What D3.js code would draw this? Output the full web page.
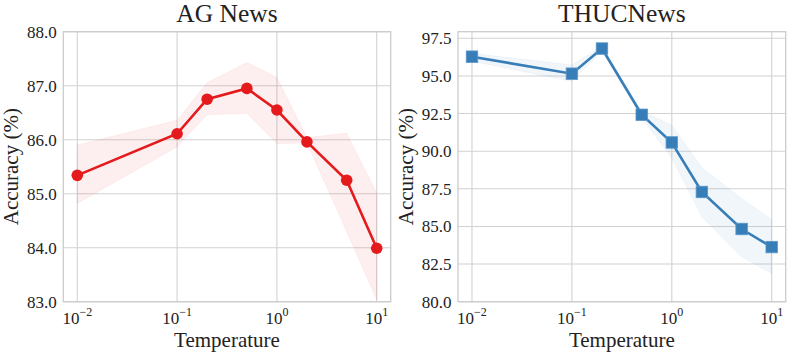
<!DOCTYPE html>
<html>
<head>
<meta charset="utf-8">
<script src="https://cdn.jsdelivr.net/npm/d3@7"></script>
<style>
    body { margin: 0; background: #fff; }
    svg text { font-family: "Liberation Serif", "Times New Roman", serif; fill: #222; }
</style>
</head>
<body>
<div class="graph-container"></div>
<script>
// data
const temperatures = [0.01, 0.1, 0.2, 0.5, 1, 2, 5, 10];
const xTickValues = [0.01, 0.1, 1, 10];
const xTickExponents = ['\u22122', '\u22121', '0', '1'];

const agMean = [85.34, 86.11, 86.75, 86.95, 86.55, 85.96, 85.25, 83.99];
const agUpper = [85.90, 86.36, 87.06, 87.43, 87.15, 86.04, 86.12, 85.01];
const agLower = [84.82, 85.87, 86.46, 86.49, 85.93, 85.94, 84.30, 83.04];
const agYTicks = [83, 84, 85, 86, 87, 88];

const thucMean = [96.28, 95.15, 96.82, 92.42, 90.58, 87.29, 84.83, 83.63];
const thucUpper = [96.50, 95.73, 96.97, 92.65, 91.74, 88.90, 86.85, 85.45];
const thucLower = [95.98, 94.65, 96.65, 92.20, 89.55, 85.65, 82.98, 81.88];
const thucYTicks = [80, 82.5, 85, 87.5, 90, 92.5, 95, 97.5];

const [width, height] = [789, 355];
const [plotTop, plotBottom] = [31.7, 301.7];

const svg = d3.select('div.graph-container')
    .append('svg')
    .attr('width', width)
    .attr('height', height)
    .attr('font-family', '"Liberation Serif", serif');

const drawPanel = ({ left, right, title, mean, upper, lower, yDomain, yTicks, color, marker }) => {
    const x = d3.scaleLog().domain([Math.pow(10, -2.14), Math.pow(10, 1.14)]).range([left, right]);
    const y = d3.scaleLinear().domain(yDomain).range([plotBottom, plotTop]);
    const g = svg.append('g');
    const rows = temperatures.map((t, i) => ({ t, m: mean[i], hi: upper[i], lo: lower[i] }));

    // grid
    g.selectAll('line.hgrid')
        .data(yTicks)
        .enter()
        .append('line')
        .attr('x1', left).attr('x2', right)
        .attr('y1', d => y(d)).attr('y2', d => y(d))
        .attr('stroke', '#d2d2d2')
        .attr('stroke-width', 1.1);
    g.selectAll('line.vgrid')
        .data(xTickValues)
        .enter()
        .append('line')
        .attr('x1', d => x(d)).attr('x2', d => x(d))
        .attr('y1', plotTop).attr('y2', plotBottom)
        .attr('stroke', '#d2d2d2')
        .attr('stroke-width', 1.1);

    // frame
    g.append('rect')
        .attr('x', left).attr('y', plotTop)
        .attr('width', right - left).attr('height', plotBottom - plotTop)
        .attr('fill', 'none')
        .attr('stroke', '#cccccc')
        .attr('stroke-width', 1.3);

    // spread band
    g.append('path')
        .datum(rows)
        .attr('d', d3.area().x(d => x(d.t)).y0(d => y(d.lo)).y1(d => y(d.hi)))
        .attr('fill', color)
        .attr('fill-opacity', 0.07)
        .attr('stroke', color)
        .attr('stroke-opacity', 0.05);

    // mean line
    g.append('path')
        .datum(rows)
        .attr('d', d3.line().x(d => x(d.t)).y(d => y(d.m)))
        .attr('fill', 'none')
        .attr('stroke', color)
        .attr('stroke-width', 2.6);

    // markers
    if (marker === 'circle') {
        g.selectAll('circle.pt')
            .data(rows)
            .enter()
            .append('circle')
            .attr('cx', d => x(d.t))
            .attr('cy', d => y(d.m))
            .attr('r', 5.8)
            .attr('fill', color);
    } else {
        const s = 11.5;
        g.selectAll('rect.pt')
            .data(rows)
            .enter()
            .append('rect')
            .attr('x', d => x(d.t) - s / 2)
            .attr('y', d => y(d.m) - s / 2)
            .attr('width', s).attr('height', s)
            .attr('fill', color)
            .attr('stroke', '#5a97cc')
            .attr('stroke-width', 0.8);
    }

    // y tick labels
    g.selectAll('text.ytick')
        .data(yTicks)
        .enter()
        .append('text')
        .attr('x', left - 6.5)
        .attr('y', d => y(d))
        .attr('dy', '0.35em')
        .attr('text-anchor', 'end')
        .style('font-size', '17px')
        .text(d => d.toFixed(1));

    // x tick labels (10^n)
    const xt = g.selectAll('text.xtick')
        .data(xTickValues)
        .enter()
        .append('text')
        .attr('x', d => x(d))
        .attr('y', 323.5)
        .attr('text-anchor', 'middle')
        .style('font-size', '17px');
    xt.append('tspan').text('10');
    xt.append('tspan')
        .attr('dy', -8)
        .style('font-size', '12px')
        .text((d, i) => xTickExponents[i]);

    // titles
    g.append('text')
        .attr('x', (left + right) / 2)
        .attr('y', 21.7)
        .attr('text-anchor', 'middle')
        .style('font-size', '25.5px')
        .text(title);
    g.append('text')
        .attr('x', (left + right) / 2)
        .attr('y', 347)
        .attr('text-anchor', 'middle')
        .style('font-size', '21px')
        .text('Temperature');
    g.append('text')
        .attr('transform', `translate(${left - 45.5},${(plotTop + plotBottom) / 2}) rotate(-90)`)
        .attr('text-anchor', 'middle')
        .style('font-size', '21px')
        .text('Accuracy (%)');
};

drawPanel({
    left: 63.3, right: 390.7, title: 'AG News',
    mean: agMean, upper: agUpper, lower: agLower,
    yDomain: [83, 88], yTicks: agYTicks, color: '#e41a1c', marker: 'circle'
});
drawPanel({
    left: 458, right: 785.7, title: 'THUCNews',
    mean: thucMean, upper: thucUpper, lower: thucLower,
    yDomain: [80, 97.94], yTicks: thucYTicks, color: '#377eb8', marker: 'square'
});
</script>
</body>
</html>
